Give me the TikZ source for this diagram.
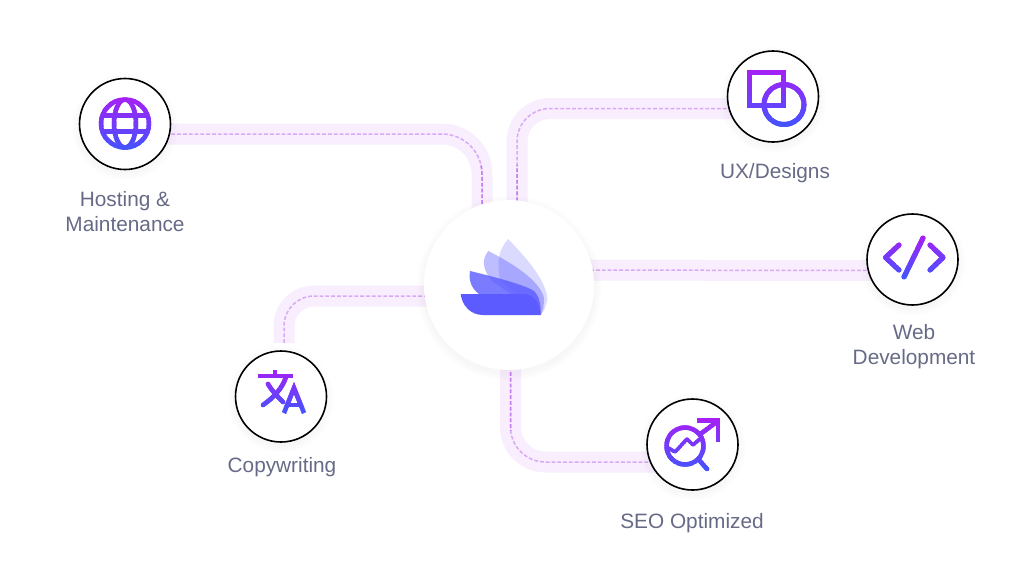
\documentclass[tikz,border=0pt]{standalone}
\usepackage{fontspec}
\setmainfont{Liberation Sans}
\definecolor{labelink}{HTML}{666A86}
\definecolor{bandpink}{HTML}{F8EEFE}
\definecolor{dashpink}{HTML}{DAA9F6}
\definecolor{dashdeep}{HTML}{C67FF0}
\definecolor{iconpurple}{HTML}{A81FF5}
\definecolor{iconblue}{HTML}{4354FF}
\definecolor{logoblue}{HTML}{5B5BFF}
\usetikzlibrary{
  calc,
  backgrounds
}
\tikzset{
  hubdisc/.style={circle, fill=white, minimum size=170pt, inner sep=0pt},
  service/.style={circle, draw=black, fill=white, line width=1.6pt, minimum size=91pt, inner sep=0pt},
  annot/.style={font=\fontsize{20.8}{25}\selectfont, text=labelink, align=center, inner sep=0pt},
  band/.style={draw=bandpink, line width=21pt},
  trace/.style={draw=dashpink, line width=1.5pt, dash pattern=on 3.8pt off 2pt},
  iconline/.style={draw=iconink, line width=4.5pt, line cap=round, line join=round}
}
% both layers of one connector, deeper dashes close to the hub
\newcommand{\linkroute}[2]{
  \draw[band, rounded corners=#1] #2;
  \draw[trace, rounded corners=#1] #2;
  \begin{scope}
    \clip (470,165) rectangle (530,430);
    \draw[trace, draw=dashdeep, rounded corners=#1] #2;
  \end{scope}
}
% strips from top colour to bottom colour
\newcommand{\gradicon}[3]{
  \foreach \k in {0,...,23}{
    \pgfmathsetmacro\mixval{100*\k/23}
    \colorlet{iconink}{iconblue!\mixval!iconpurple}
    \begin{scope}
      \clip (0,{#1+(#2-#1)*\k/24}) rectangle (1024,{#1+(#2-#1)*(\k+1.4)/24});
      #3
    \end{scope}
  }
}
\begin{document}
\begin{tikzpicture}[x=1pt, y=-1pt]
  \useasboundingbox (0,0) rectangle (1024,582);

  % Hub and the five services
  \node[hubdisc] (hub) at (509,285) {};
  \node[service] (hosting) at (125,124) {};
  \node[service] (ux) at (773,96.5) {};
  \node[service] (web) at (912.5,259.5) {};
  \node[service] (copy) at (281,396.5) {};
  \node[service] (seo) at (692.5,444.5) {};

  % Labels
  \node[annot] (hostinglabel) at (125,212) {Hosting \&\\Maintenance};
  \node[annot] (uxlabel) at (775,173) {UX/Designs};
  \node[annot] (weblabel) at (914,347) {Web\\Development};
  \node[annot] (copylabel) at (282,467) {Copywriting};
  \node[annot] (seolabel) at (692,523) {SEO Optimized};

  % Connectors
  \begin{scope}[on background layer]
    \linkroute{40pt}{([yshift=-10pt]hosting.center) -| ([xshift=-27pt]hub.center)}
    \linkroute{33pt}{([yshift=-12pt]ux.center) -| ([xshift=8pt]hub.center)}
    \linkroute{1pt}{([yshift=15pt]hub.center) -- ([yshift=-11pt]web.center)}
    \coordinate (copyend) at (284,343);
    \linkroute{30pt}{(hub.center |- copyend |- 0,296) -| (copyend)}
    \linkroute{35pt}{([xshift=1.5pt]hub.center) |- ([yshift=-17.5pt]seo.center)}

    % Soft shadows under the discs
    \foreach \disc/\rad in {hub/85, hosting/45.5, ux/45.5, web/45.5, copy/45.5, seo/45.5}{
      \foreach \s in {1,...,8}{
        \fill[black, opacity=0.004] ([yshift=-3pt]\disc.center) circle[radius=\rad+\s];
      }
    }
  \end{scope}

  % Logo
  \fill[logoblue, opacity=0.22] (508.3,239) .. controls (525,257) and (545,278) .. (547.3,298)
    .. controls (546.5,306) and (544,311) .. (540.7,315) -- (500,280) .. controls (497,262) and (498,250) .. (508.3,239) -- cycle;
  \fill[logoblue, opacity=0.4] (488.3,251) .. controls (510,262) and (540,280) .. (544,298)
    .. controls (544,306) and (543,311) .. (540.7,315) -- (492,281) .. controls (483,270) and (481,260) .. (488.3,251) -- cycle;
  \fill[logoblue, opacity=0.8] (470,271) .. controls (495,277) and (525,285) .. (534,291)
    .. controls (540,297) and (541,306) .. (540.7,315) -- (482,296) .. controls (473,291) and (468,282) .. (470,271) -- cycle;
  \fill[logoblue] (460.7,294) -- (524,294) .. controls (533,294) and (540,303) .. (540.7,315)
    -- (483,315) .. controls (470,315) and (462,305) .. (460.7,294) -- cycle;

  % Globe
  \gradicon{96}{151}{
    \draw[iconline] (125,123.5) circle[radius=24];
    \draw[iconline] (125,123.5) ellipse[x radius=11, y radius=24];
    \draw[iconline] (103,115.5) -- (147,115.5);
    \draw[iconline] (103,131.5) -- (147,131.5);
  }
  % Square and circle
  \gradicon{69}{128}{
    \draw[iconline, line width=5pt, line cap=butt, line join=miter] (749.5,72.5) rectangle (783,105);
    \draw[iconline, line width=5pt] (784,104.5) circle[radius=20];
  }
  % Code brackets
  \gradicon{235}{280}{
    \draw[iconline, line width=5pt] (899,245) -- (885.5,257.5) -- (899,270);
    \draw[iconline, line width=5pt] (923,238) -- (904,277);
    \draw[iconline, line width=5pt] (930,245) -- (943,257.5) -- (930,270);
  }
  % Translate
  \gradicon{368}{415}{
    \draw[iconline, line cap=butt] (258,376) -- (293,376);
    \draw[iconline, line cap=butt] (275,370) -- (275,376);
    \draw[iconline] (286,377) .. controls (282,389) and (273,398) .. (263,405);
    \draw[iconline] (268,384) .. controls (272,391) and (278,397) .. (283,402);
    \draw[iconline, line cap=butt, line join=miter] (284,413) -- (294,388) -- (304,413);
    \draw[iconline, line cap=butt] (288,405) -- (300,405);
  }
  % Magnifier with rising arrow
  \gradicon{418}{472}{
    \draw[iconline] (685,446) circle[radius=18.5];
    \draw[iconline, line cap=butt] (699,435) -- (718,421);
    \draw[iconline, line cap=butt, line join=miter] (697,420.5) -- (718,420.5) -- (718,442);
    \draw[iconline] (699,460) -- (707,469);
    \draw[iconline, line width=3.5pt] (667,447) -- (675,452) -- (687,439) -- (693,445) -- (702,437);
  }
\end{tikzpicture}
\end{document}
